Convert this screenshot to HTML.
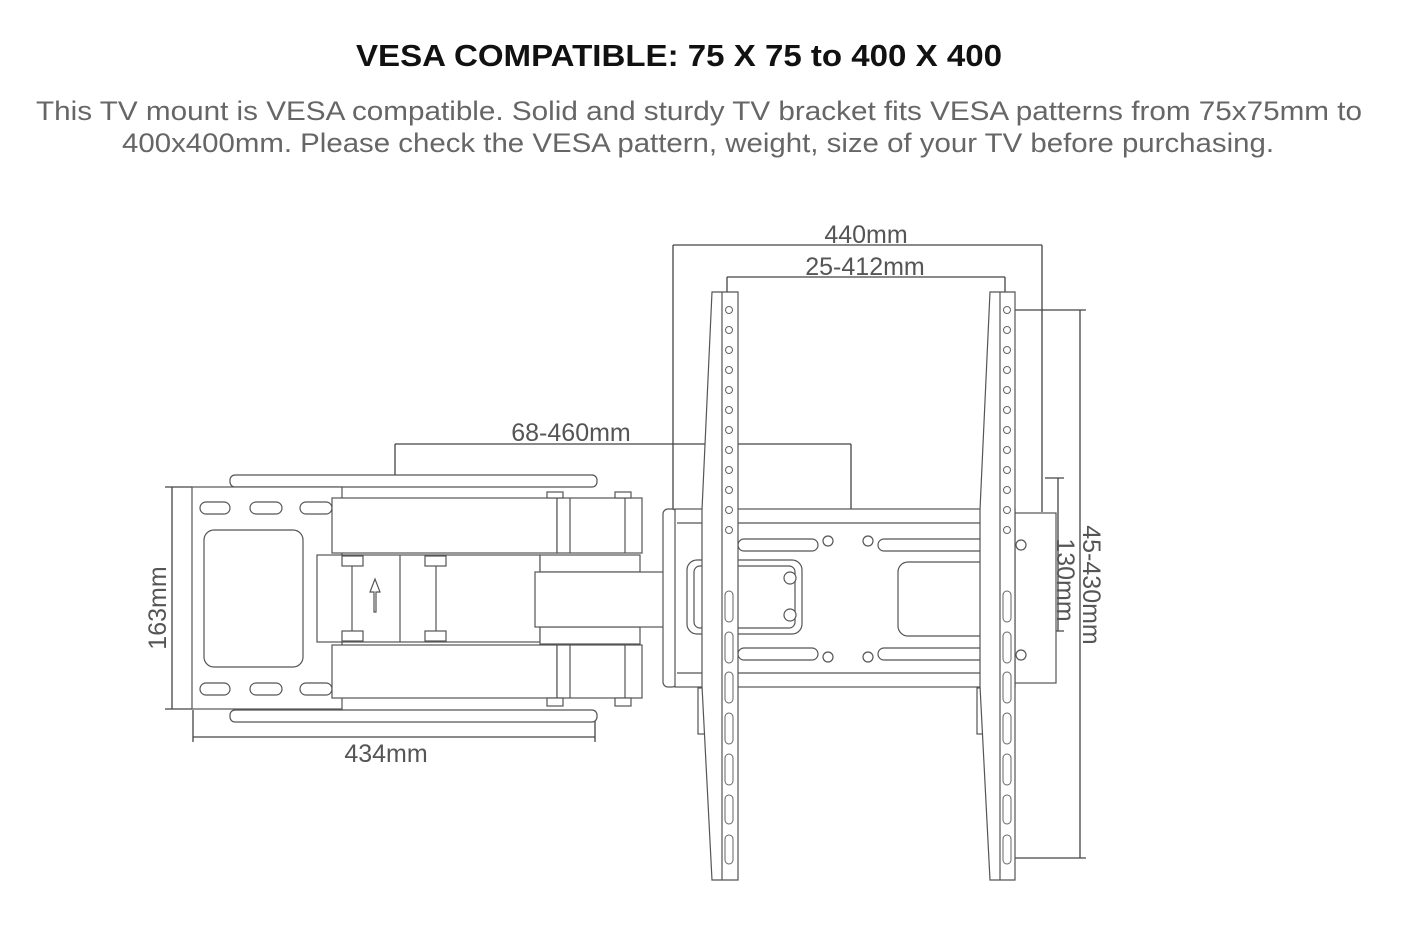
<!DOCTYPE html>
<html><head><meta charset="utf-8"><style>
html,body{margin:0;padding:0;background:#fff;width:1404px;height:927px;overflow:hidden}
svg{display:block}
text{font-family:"Liberation Sans",sans-serif}
</style></head><body>
<svg width="1404" height="927" viewBox="0 0 1404 927" xmlns="http://www.w3.org/2000/svg">
<text x="356" y="66" font-size="31" font-weight="bold" fill="#111" textLength="646" lengthAdjust="spacingAndGlyphs">VESA COMPATIBLE: 75 X 75 to 400 X 400</text>
<text x="36" y="120" font-size="27" fill="#666" textLength="1326" lengthAdjust="spacingAndGlyphs">This TV mount is VESA compatible. Solid and sturdy TV bracket fits VESA patterns from 75x75mm to</text>
<text x="122" y="152" font-size="27" fill="#666" textLength="1152" lengthAdjust="spacingAndGlyphs">400x400mm. Please check the VESA pattern, weight, size of your TV before purchasing.</text>

<g stroke="#444" stroke-width="1.3" fill="none">
<!-- dimension lines -->
<path d="M673 245H1042M673 245V515M1042 245V512"/>
<path d="M727 277H1005M727 277V292M1005 277V292"/>
<path d="M395 444H851M395 444V476M851 444V510"/>
<path d="M172 487V709M165 487H192M165 709H192"/>
<path d="M193 737H595M193 710V742M595 712V742"/>
<path d="M1058 478V631M1045 478H1064M1045 631H1064"/>
<path d="M1080 310V858M1008 310H1086M1008 858H1086"/>
</g>
<g font-size="25" fill="#555">
<text x="866" y="243" text-anchor="middle">440mm</text>
<text x="865" y="275" text-anchor="middle">25-412mm</text>
<text x="571" y="441" text-anchor="middle">68-460mm</text>
<text x="386" y="762" text-anchor="middle">434mm</text>
<text transform="translate(166,608) rotate(-90)" text-anchor="middle">163mm</text>
<text transform="translate(1057,580) rotate(90)" text-anchor="middle">130mm</text>
<text transform="translate(1083,585) rotate(90)" text-anchor="middle">45-430mm</text>
</g>

<g stroke="#555" stroke-width="1.2" fill="#fff">
<!-- rails -->
<rect x="230" y="475" width="367" height="12" rx="5"/>
<rect x="230" y="710" width="367" height="12" rx="5"/>
<!-- wall plate -->
<rect x="192" y="487" width="150" height="222"/>
<rect x="200" y="502" width="30" height="12" rx="6"/>
<rect x="250" y="502" width="32" height="12" rx="6"/>
<rect x="300" y="502" width="32" height="12" rx="6"/>
<rect x="200" y="683" width="30" height="12" rx="6"/>
<rect x="250" y="683" width="32" height="12" rx="6"/>
<rect x="300" y="683" width="32" height="12" rx="6"/>
<rect x="204" y="530" width="99" height="137" rx="10"/>
<!-- middle section -->
<rect x="317" y="555" width="223" height="87"/>
<line x1="400" y1="555" x2="400" y2="642"/>
<line x1="352" y1="562" x2="352" y2="635"/>
<line x1="436" y1="562" x2="436" y2="635"/>
<rect x="342" y="556" width="21" height="10"/>
<rect x="342" y="631" width="21" height="10"/>
<rect x="425" y="556" width="21" height="10"/>
<rect x="425" y="631" width="21" height="10"/>
<path d="M374 612V592H370L375 579L380 592H376V612Z"/>
<!-- connectors -->
<rect x="540" y="555" width="100" height="17"/>
<rect x="540" y="627" width="100" height="17"/>
<!-- arms -->
<rect x="332" y="498" width="225" height="55"/>
<rect x="557" y="498" width="85" height="55"/>
<line x1="570" y1="498" x2="570" y2="553"/><line x1="625" y1="498" x2="625" y2="553"/>
<rect x="332" y="645" width="225" height="53"/>
<rect x="557" y="645" width="85" height="53"/>
<line x1="570" y1="645" x2="570" y2="698"/><line x1="625" y1="645" x2="625" y2="698"/>
<rect x="547" y="492" width="16" height="6"/><rect x="615" y="492" width="16" height="6"/>
<rect x="547" y="698" width="16" height="8"/><rect x="615" y="698" width="16" height="8"/>
<rect x="535" y="572" width="130" height="55"/>
<!-- TV plate -->
<rect x="663" y="509" width="14" height="178" rx="5"/>
<rect x="1012" y="513" width="44" height="170"/>
<rect x="675" y="509" width="340" height="178"/>
<line x1="677" y1="523" x2="1015" y2="523"/>
<line x1="677" y1="673" x2="1015" y2="673"/>
<rect x="738" y="539" width="80" height="12" rx="6"/>
<rect x="878" y="539" width="110" height="12" rx="6"/>
<rect x="738" y="648" width="80" height="12" rx="6"/>
<rect x="878" y="648" width="110" height="12" rx="6"/>
<circle cx="828" cy="541" r="5"/><circle cx="868" cy="541" r="5"/>
<circle cx="828" cy="657" r="5"/><circle cx="868" cy="657" r="5"/>
<circle cx="1021" cy="545" r="5"/><circle cx="1021" cy="655" r="5"/>
<rect x="687" y="560" width="115" height="74" rx="10"/>
<rect x="694" y="566" width="101" height="62" rx="6"/>
<circle cx="790" cy="578" r="6"/><circle cx="790" cy="615" r="6"/>
<rect x="898" y="562" width="92" height="74" rx="10"/>
<!-- clips -->
<rect x="698" y="688" width="14" height="46"/>
<rect x="977" y="688" width="14" height="46"/>
<!-- bars -->
<path d="M712 292L702 510V686L712 880H738V292Z"/>
<line x1="722" y1="292" x2="722" y2="880"/>
<path d="M990 292L980 510V686L990 880H1015V292Z"/>
<line x1="1000" y1="292" x2="1000" y2="880"/>
</g>
<g stroke="#666" stroke-width="1" fill="#fff">
<circle cx="729" cy="310" r="3.5"/><circle cx="729" cy="330" r="3.5"/><circle cx="729" cy="350" r="3.5"/><circle cx="729" cy="370" r="3.5"/><circle cx="729" cy="390" r="3.5"/><circle cx="729" cy="410" r="3.5"/><circle cx="729" cy="430" r="3.5"/><circle cx="729" cy="450" r="3.5"/><circle cx="729" cy="470" r="3.5"/><circle cx="729" cy="490" r="3.5"/><circle cx="729" cy="510" r="3.5"/><circle cx="729" cy="530" r="3.5"/>
<circle cx="1007" cy="310" r="3.5"/><circle cx="1007" cy="330" r="3.5"/><circle cx="1007" cy="350" r="3.5"/><circle cx="1007" cy="370" r="3.5"/><circle cx="1007" cy="390" r="3.5"/><circle cx="1007" cy="410" r="3.5"/><circle cx="1007" cy="430" r="3.5"/><circle cx="1007" cy="450" r="3.5"/><circle cx="1007" cy="470" r="3.5"/><circle cx="1007" cy="490" r="3.5"/><circle cx="1007" cy="510" r="3.5"/><circle cx="1007" cy="530" r="3.5"/>
<rect x="725" y="591" width="8" height="31" rx="4"/><rect x="725" y="632" width="8" height="31" rx="4"/><rect x="725" y="672" width="8" height="31" rx="4"/><rect x="725" y="713" width="8" height="31" rx="4"/><rect x="725" y="754" width="8" height="31" rx="4"/><rect x="725" y="795" width="8" height="29" rx="4"/><rect x="725" y="835" width="8" height="29" rx="4"/>
<rect x="1003" y="591" width="8" height="31" rx="4"/><rect x="1003" y="632" width="8" height="31" rx="4"/><rect x="1003" y="672" width="8" height="31" rx="4"/><rect x="1003" y="713" width="8" height="31" rx="4"/><rect x="1003" y="754" width="8" height="31" rx="4"/><rect x="1003" y="795" width="8" height="29" rx="4"/><rect x="1003" y="835" width="8" height="29" rx="4"/>
</g>
</svg>
</body></html>
